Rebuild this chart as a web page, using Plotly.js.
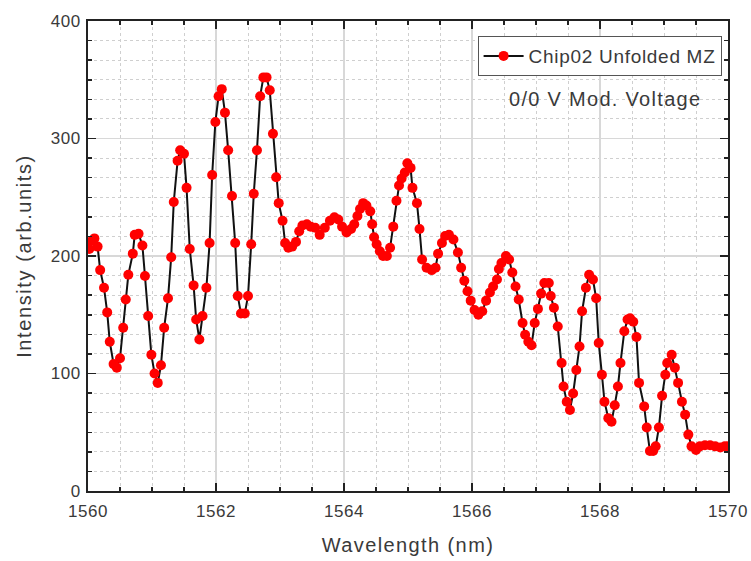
<!DOCTYPE html>
<html>
<head>
<meta charset="utf-8">
<script src="https://cdn.plot.ly/plotly-3.0.1.min.js"></script>
<style>
html,body{margin:0;padding:0;background:#fff;}
#chart{width:751px;height:561px;}
.g-xtitle text, text.xtitle{letter-spacing:1.4px;}
.g-ytitle text, text.ytitle{letter-spacing:1.6px;}
text.legendtext{letter-spacing:0.7px;}
text.annotation-text{letter-spacing:1.3px;}
.xtick text, .ytick text{letter-spacing:0.5px;}
</style>
</head>
<body>
<div id="chart"></div>
<script>
const wavelength = [
1560.02,1560.06,1560.10,1560.15,1560.19,1560.25,1560.30,1560.34,1560.40,1560.45,
1560.50,1560.55,1560.59,1560.63,1560.70,1560.73,1560.79,1560.85,1560.89,1560.94,
1560.99,1561.04,1561.09,1561.14,1561.19,1561.25,1561.30,1561.34,1561.40,1561.44,
1561.50,1561.54,1561.59,1561.65,1561.69,1561.74,1561.79,1561.85,1561.90,1561.94,
1561.99,1562.04,1562.09,1562.14,1562.19,1562.25,1562.30,1562.34,1562.39,1562.45,
1562.50,1562.55,1562.59,1562.64,1562.69,1562.74,1562.79,1562.84,1562.89,1562.94,
1562.98,1563.04,1563.08,1563.13,1563.19,1563.25,1563.30,1563.35,1563.42,1563.48,
1563.55,1563.62,1563.70,1563.78,1563.85,1563.91,1563.97,1564.04,1564.11,1564.16,
1564.21,1564.25,1564.30,1564.35,1564.41,1564.44,1564.47,1564.51,1564.56,1564.61,
1564.67,1564.72,1564.77,1564.82,1564.86,1564.90,1564.95,1564.99,1565.04,1565.07,
1565.14,1565.18,1565.22,1565.29,1565.37,1565.43,1565.47,1565.53,1565.58,1565.64,
1565.71,1565.78,1565.83,1565.88,1565.93,1565.98,1566.04,1566.10,1566.16,1566.22,
1566.28,1566.33,1566.39,1566.42,1566.46,1566.53,1566.58,1566.63,1566.68,1566.73,
1566.79,1566.83,1566.88,1566.93,1566.98,1567.03,1567.08,1567.13,1567.20,1567.23,
1567.28,1567.34,1567.40,1567.43,1567.48,1567.53,1567.58,1567.63,1567.68,1567.72,
1567.78,1567.83,1567.89,1567.94,1567.98,1568.03,1568.07,1568.13,1568.18,1568.23,
1568.28,1568.32,1568.38,1568.43,1568.47,1568.52,1568.57,1568.61,1568.69,1568.73,
1568.78,1568.83,1568.87,1568.92,1568.97,1569.02,1569.05,1569.12,1569.17,1569.22,
1569.28,1569.33,1569.38,1569.43,1569.50,1569.56,1569.64,1569.72,1569.80,1569.88,
1569.95,1570.00
];
const intensity = [
206,213,215,208,188,173,152,127,108,105,
113,139,163,184,202,218,219,209,183,149,
116,100,92,107,139,164,199,246,281,290,
287,258,206,175,146,129,149,173,211,269,
314,336,342,322,290,251,211,166,151,151,
166,210,253,290,336,352,352,341,304,267,
245,230,211,207,208,212,221,226,227,225,
224,218,224,230,233,231,225,220,223,227,
234,240,245,243,238,227,216,210,204,200,
200,207,225,247,260,266,271,279,275,258,
245,223,197,190,188,190,202,211,217,218,
214,203,190,179,170,162,154,150,153,162,
169,174,180,189,194,200,197,186,174,163,
143,133,127,124,143,155,168,177,177,166,
156,140,109,89,76,69,83,103,123,153,
173,184,180,164,126,99,76,62,59,73,
89,109,136,146,147,144,131,92,72,54,
34,34,38,54,81,99,109,116,105,92,
76,65,48,38,35,38,39,39,38,37,
38,38
];
const seriesName = "Chip02 Unfolded MZ";
const noteText = "0/0 V Mod. Voltage";
const xTitle = "Wavelength (nm)";
const yTitle = "Intensity (arb.units)";

const fontFam = "Liberation Sans, Arial, sans-serif";
const txt = "#3a3a3a";

const trace = {
  x: wavelength, y: intensity, type: "scatter", mode: "lines+markers",
  name: seriesName,
  line: {color: "#111", width: 2},
  marker: {color: "#ff0000", size: 10, line: {width: 0}}
};

const axisCommon = {
  showline: true, linecolor: "#222", linewidth: 2, mirror: "ticks",
  ticks: "inside", ticklen: 8, tickwidth: 1.5, tickcolor: "#222",
  showgrid: true, gridcolor: "#d8d8d8", gridwidth: 1.5,
  zeroline: false,
  tickfont: {family: fontFam, size: 17, color: txt}
};

const layout = {
  width: 751, height: 561,
  margin: {l: 88, r: 23, t: 21, b: 70},
  paper_bgcolor: "#fff", plot_bgcolor: "#fff",
  showlegend: true,
  legend: {
    x: 0.99, y: 0.968, xanchor: "right", yanchor: "top",
    bgcolor: "#fff", bordercolor: "#555", borderwidth: 1,
    font: {family: fontFam, size: 19, color: txt},
    itemwidth: 40, tracegroupgap: 0
  },
  xaxis: Object.assign({}, axisCommon, {
    range: [1560, 1570], tick0: 1560, dtick: 2, ticklabelstandoff: 4,
    title: {text: xTitle, standoff: 18, font: {family: fontFam, size: 20, color: txt}},
    minor: {dtick: 0.5, ticks: "inside", ticklen: 4, tickcolor: "#222",
            showgrid: true, gridcolor: "#cfcfcf", griddash: "dot", gridwidth: 1}
  }),
  yaxis: Object.assign({}, axisCommon, {
    range: [0, 400], tick0: 0, dtick: 100, ticklabelstandoff: 2,
    title: {text: yTitle, standoff: 14, font: {family: fontFam, size: 20, color: txt}},
    minor: {tick0: 0, dtick: 100/6, ticks: "inside", ticklen: 4, tickcolor: "#222",
            showgrid: true, gridcolor: "#cfcfcf", griddash: "dot", gridwidth: 1}
  }),
  annotations: [{
    text: noteText, xref: "paper", yref: "paper", x: 0.961, y: 0.834,
    xanchor: "right", yanchor: "middle", showarrow: false,
    font: {family: fontFam, size: 20, color: txt}
  }]
};

Plotly.newPlot("chart", [trace], layout, {displayModeBar: false, staticPlot: true});
</script>
</body>
</html>
